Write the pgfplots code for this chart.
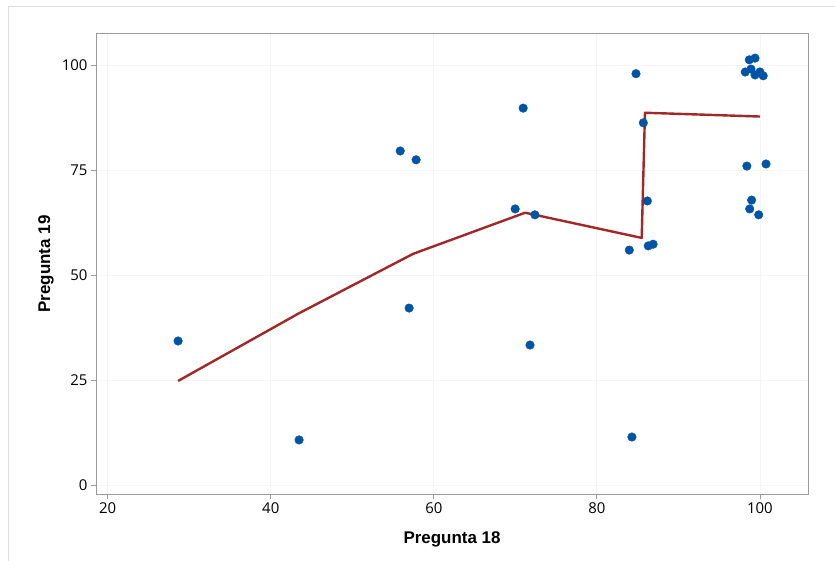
\documentclass[border=0pt]{standalone}
\usepackage{pgfplots}
\pgfplotsset{compat=1.18}
\usepackage{fontspec}
\setmainfont{Liberation Sans}
\newfontfamily\tickfont{Open Sans}
\definecolor{ptblue}{RGB}{0,84,166}
\definecolor{lnred}{RGB}{160,40,40}
\definecolor{framegray}{RGB}{155,155,155}
\begin{document}
\begin{tikzpicture}
\path[use as bounding box] (0,0) rectangle (835bp,561bp);
\draw[gray!25, line width=1bp] (8bp,0) -- (8bp,554bp) -- (835bp,554bp);
\begin{axis}[
  at={(96bp,67bp)}, anchor=south west,
  scale only axis, width=712bp, height=460bp,
  xmin=18.56, xmax=105.9, ymin=-2.07, ymax=107.45,
  xtick={20,40,60,80,100}, ytick={0,25,50,75,100},
  axis line style={framegray, line width=1bp},
  tick style={framegray, line width=0.8bp},
  tick align=outside, major tick length=5bp,
  xtick pos=bottom, ytick pos=left,
  grid=major, major grid style={gray!8, line width=0.8bp},
  ticklabel style={font=\tickfont\fontsize{15}{18}\selectfont, text=black},
  /pgf/number format/assume math mode=true,
  xlabel={Pregunta 18}, ylabel={Pregunta 19},
  label style={font=\bfseries\fontsize{17}{20}\selectfont},
  xlabel style={at={(axis description cs:0.5,-0.1072)}, anchor=base},
  ylabel style={at={(axis description cs:-0.0645,0.5)}, anchor=base},
]
\addplot[only marks, mark=*, mark size=4.3bp, color=ptblue, mark options={draw=ptblue, fill=ptblue}] coordinates {
(28.63,34.36) (43.47,10.8) (55.88,79.6) (57.83,77.5) (56.97,42.2)
(70.96,89.8) (69.98,65.8) (72.4,64.4) (71.8,33.4)
(84.8,98.0) (85.7,86.3) (86.2,67.7) (83.98,56.0) (86.3,57.0) (86.9,57.4) (84.3,11.5)
(98.7,101.3) (99.4,101.7) (98.2,98.4) (98.9,99.1) (99.4,97.7) (100.0,98.4) (100.4,97.5)
(98.4,76.0) (100.75,76.5) (98.98,67.9) (98.75,65.8) (99.85,64.4)
};
\addplot[color=lnred, line width=2.4bp, line join=round] coordinates {
(28.63,24.85) (43.5,41.0) (57.45,55.1) (71.2,64.9) (85.5,58.9) (85.9,88.7) (100,87.8)
};
\end{axis}
\end{tikzpicture}
\end{document}
